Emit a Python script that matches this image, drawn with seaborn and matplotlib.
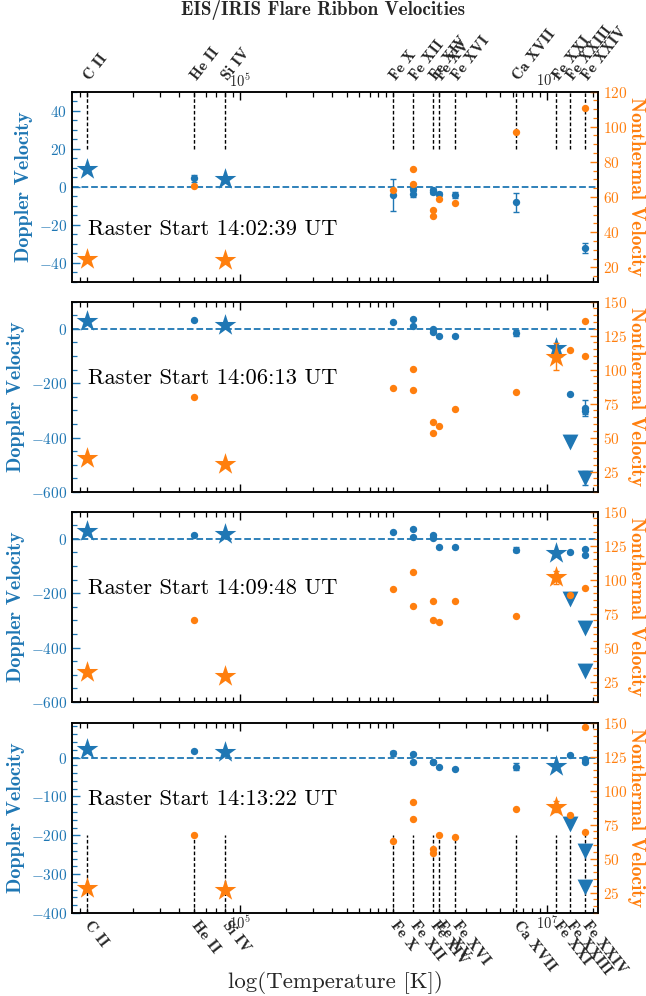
import numpy as np
import pandas as pd
import matplotlib
matplotlib.use("Agg")
import matplotlib.pyplot as plt
import matplotlib.transforms as mtransforms
import seaborn as sns
from matplotlib.ticker import (FixedLocator, LogLocator, NullFormatter,
                               FuncFormatter, MultipleLocator, AutoMinorLocator)

sns.set_theme(style="ticks")
plt.rcParams["font.family"] = ["cmr10", "DejaVu Serif"]
plt.rcParams["mathtext.fontset"] = "cm"
plt.rcParams["axes.unicode_minus"] = False
plt.rcParams["axes.edgecolor"] = "black"
plt.rcParams["axes.linewidth"] = 1.1

BLUE = "#1f77b4"
ORANGE = "#ff7f0e"
nan = np.nan

# ---------------- data ----------------
line_names = ["C II", "He II", "Si IV", "Fe X", "Fe XII", "Fe XIV", "Fe XV",
              "Fe XVI", "Ca XVII", "Fe XXI", "Fe XXIII", "Fe XXIV"]
line_logT = [4.0, 4.7, 4.9, 6.0, 6.13, 6.26, 6.30, 6.40, 6.80, 7.06, 7.15, 7.25]

iris_lines = ["C II", "Si IV", "Fe XXI"]
eis_lines = ["He II", "Fe X", "Fe XII", "Fe XII", "Fe XIV", "Fe XIV", "Fe XV",
             "Fe XVI", "Ca XVII", "Fe XXIII", "Fe XXIV", "Fe XXIV"]
wing_lines = ["Fe XXIII", "Fe XXIV", "Fe XXIV"]

raster_starts = ["14:02:39", "14:06:13", "14:09:48", "14:13:22"]

# IRIS Doppler / nonthermal (stars)
iris_dop = [[9.3, 4.0, nan], [26.9, 14.7, -71.0], [26.9, 17.1, -52.6], [23.1, 15.4, -21.4]]
iris_nth = [[24.6, 24.0, nan], [34.9, 30.8, 109.6], [31.8, 28.9, 101.6], [28.4, 26.7, 88.3]]
iris_nth_err = [[0, 0, 0], [0, 0, 10.0], [0, 0, 5.0], [0, 0, 4.0]]

# EIS Doppler (circles)
eis_dop = [
    [4.4, -4.4, -3.9, -1.2, -1.75, -2.6, -3.7, -4.4, -8.2, nan, -32.1, nan],
    [30.6, 23.2, 35.5, 11.0, -1.2, -12.2, -26.9, -25.7, -15.9, -241.0, -291.0, -302.0],
    [14.7, 23.2, 35.5, 7.3, 13.5, 3.7, -29.4, -29.4, -40.4, -48.9, -36.7, -58.7],
    [17.1, 11.1, 9.4, -12.0, -10.3, -12.0, -23.1, -28.3, -23.1, 6.0, -4.3, -10.3],
]
eis_dop_err = [
    [1.8, 8.5, 1.5, 1.0, 1.0, 1.0, 1.0, 1.5, 5.0, 0, 2.5, 0],
    [3.0, 3.0, 3.0, 3.0, 3.0, 3.0, 3.0, 3.0, 10.0, 3.0, 29.0, 10.0],
    [3.0, 3.0, 3.0, 3.0, 3.0, 3.0, 3.0, 3.0, 9.0, 3.0, 4.0, 4.0],
    [2.0, 6.0, 2.0, 2.0, 2.0, 2.0, 2.0, 2.0, 8.0, 2.0, 2.0, 3.0],
]
# EIS nonthermal (circles)
eis_nth = [
    [66.4, 63.8, 76.2, 67.5, 52.5, 49.1, 58.9, 56.8, 97.2, nan, 110.8, nan],
    [79.7, 86.2, 100.4, 85.3, 61.4, 53.6, 58.5, 71.4, 83.6, 114.7, 135.4, 110.3],
    [70.3, 93.3, 105.7, 80.6, 84.0, 70.1, 69.0, 84.0, 73.2, 89.0, 94.1, nan],
    [67.5, 62.7, 91.7, 79.3, 57.3, 54.3, 67.1, 65.6, 86.6, 82.2, 146.5, 69.5],
]
# second (fast) component Doppler (triangles)
wing_dop = [[nan, nan, nan], [-415.0, -549.0, nan], [-220.0, -328.0, -487.0], [-170.0, -240.0, -332.0]]
wing_dop_err = [[0, 0, 0], [0, 27.0, 0], [0, 0, 0], [0, 0, 0]]

dop_lims = [(-50, 50), (-600, 100), (-600, 100), (-400, 90)]
nth_lims = [(11.7, 120), (10, 150), (10, 150), (10, 150)]
dop_steps = [20, 200, 200, 100]
nth_steps = [20, 25, 25, 25]
text_y = [0.278, 0.598, 0.598, 0.600]
vline_span = [(20, 50), None, None, (-400, -200)]

logT = dict(zip(line_names, line_logT))


def temps(names):
    return [10 ** logT[n] for n in names]


fig = plt.figure(figsize=(6.46, 9.96), dpi=100)
bottoms = [0.7169, 0.506, 0.2952, 0.0833]
L, W, H = 0.1115, 0.8142, 0.1912

bold = dict(fontfamily="cmb10")
yfmt = FuncFormatter(lambda v, p: r"$\mathbf{%g}$" % v)
xfmt = FuncFormatter(lambda v, p: r"$\mathbf{10^{%d}}$" % round(np.log10(v)))

for i in range(4):
    ax = fig.add_axes([L, bottoms[i], W, H])
    ax.set_xscale("log")
    ax2 = ax.twinx()

    ax.axhline(0, color=BLUE, ls="--", lw=1.3, zorder=1)
    if vline_span[i] is not None:
        lo, hi = vline_span[i]
        ax.vlines(temps(line_names), lo, hi, colors="black",
                  linestyles=(0, (2.6, 1.6)), lw=1.0, zorder=1)

    # EIS Doppler
    d = pd.DataFrame({"T": temps(eis_lines), "v": eis_dop[i], "e": eis_dop_err[i]}).dropna()
    ax.errorbar(d["T"], d["v"], yerr=d["e"], fmt="none", ecolor=BLUE,
                elinewidth=1.0, capsize=2.5, capthick=1.0, zorder=2)
    sns.scatterplot(data=d, x="T", y="v", ax=ax, color=BLUE, s=28,
                    marker="o", linewidth=0, zorder=3)
    # fast component
    w = pd.DataFrame({"T": temps(wing_lines), "v": wing_dop[i], "e": wing_dop_err[i]}).dropna()
    if len(w):
        ax.errorbar(w["T"], w["v"], yerr=w["e"], fmt="none", ecolor=BLUE,
                    elinewidth=1.0, capsize=2.5, zorder=2)
        sns.scatterplot(data=w, x="T", y="v", ax=ax, color=BLUE, s=130,
                        marker="v", linewidth=0, zorder=3)
    # IRIS Doppler
    s = pd.DataFrame({"T": temps(iris_lines), "v": iris_dop[i]}).dropna()
    sns.scatterplot(data=s, x="T", y="v", ax=ax, color=BLUE, s=270,
                    marker="*", linewidth=0, zorder=3)

    # Nonthermal
    n = pd.DataFrame({"T": temps(eis_lines), "v": eis_nth[i]}).dropna()
    sns.scatterplot(data=n, x="T", y="v", ax=ax2, color=ORANGE, s=28,
                    marker="o", linewidth=0, zorder=3)
    sn = pd.DataFrame({"T": temps(iris_lines), "v": iris_nth[i], "e": iris_nth_err[i]}).dropna()
    ax2.errorbar(sn["T"], sn["v"], yerr=sn["e"], fmt="none", ecolor=ORANGE,
                 elinewidth=1.0, capsize=2.5, zorder=2)
    sns.scatterplot(data=sn, x="T", y="v", ax=ax2, color=ORANGE, s=270,
                    marker="*", linewidth=0, zorder=3)

    # axes cosmetics
    ax.set_xlim(10 ** 3.904, 10 ** 7.335)
    ax.set_ylim(*dop_lims[i])
    ax2.set_ylim(*nth_lims[i])
    ax.set_xlabel("")
    ax.set_ylabel("Doppler Velocity", color=BLUE, fontsize=14.5, labelpad=4, **bold)
    ax2.set_ylabel("Nonthermal Velocity", color=ORANGE, fontsize=14,
                   rotation=270, va="bottom", labelpad=0, **bold)

    ax.xaxis.set_major_locator(FixedLocator([1e5, 1e7]))
    ax.xaxis.set_minor_locator(LogLocator(base=10, subs=np.arange(1, 10), numticks=100))
    ax.xaxis.set_major_formatter(xfmt)
    ax.xaxis.set_minor_formatter(NullFormatter())
    ax.tick_params(axis="x", which="both", direction="in", top=True, bottom=True,
                   labeltop=(i == 0), labelbottom=(i == 3), labelsize=10.5, pad=1.0,
                   color="black")
    ax.tick_params(axis="x", which="major", length=6, width=1)
    ax.tick_params(axis="x", which="minor", length=3.5, width=0.9)

    ax.yaxis.set_major_locator(MultipleLocator(dop_steps[i]))
    ax.yaxis.set_minor_locator(AutoMinorLocator())
    ax.yaxis.set_major_formatter(yfmt)
    ax.tick_params(axis="y", which="both", direction="in", colors=BLUE,
                   labelsize=11, left=True, right=False)
    ax.tick_params(axis="y", which="major", length=6, width=1)
    ax.tick_params(axis="y", which="minor", length=3.5, width=0.9)

    ax2.yaxis.set_major_locator(MultipleLocator(nth_steps[i]))
    ax2.yaxis.set_minor_locator(AutoMinorLocator())
    ax2.yaxis.set_major_formatter(yfmt)
    ax2.tick_params(axis="y", which="both", direction="in", colors=ORANGE,
                    labelsize=11, right=True, left=False)
    ax2.tick_params(axis="y", which="major", length=6, width=1)
    ax2.tick_params(axis="y", which="minor", length=3.5, width=0.9)

    ax.text(0.03, text_y[i], f"Raster Start {raster_starts[i]} UT",
            transform=ax.transAxes, fontsize=16.2, va="center", ha="left",
            fontfamily="cmr10", color="black")

    trans = mtransforms.blended_transform_factory(ax.transData, ax.transAxes)
    if i == 0:
        for nm, t in zip(line_names, temps(line_names)):
            ax.text(t, 1.068, nm, transform=trans, rotation=52,
                    rotation_mode="anchor", ha="left", va="center",
                    fontsize=11.2, **bold)
    if i == 3:
        for nm, t in zip(line_names, temps(line_names)):
            ax.text(t, -0.05, nm, transform=trans, rotation=-52,
                    rotation_mode="anchor", ha="left", va="center",
                    fontsize=11.2, **bold)

fig.text(0.5, 1 - 10 / 996, "EIS/IRIS Flare Ribbon Velocities", ha="center",
         va="center", fontsize=13.7, **bold)
fig.text((72 + 598) / 2 / 646, 1 - 982 / 996, "log(Temperature [K])",
         ha="center", va="center", fontsize=16.5, fontfamily="cmr10")

fig.savefig("out.png", dpi=100)
